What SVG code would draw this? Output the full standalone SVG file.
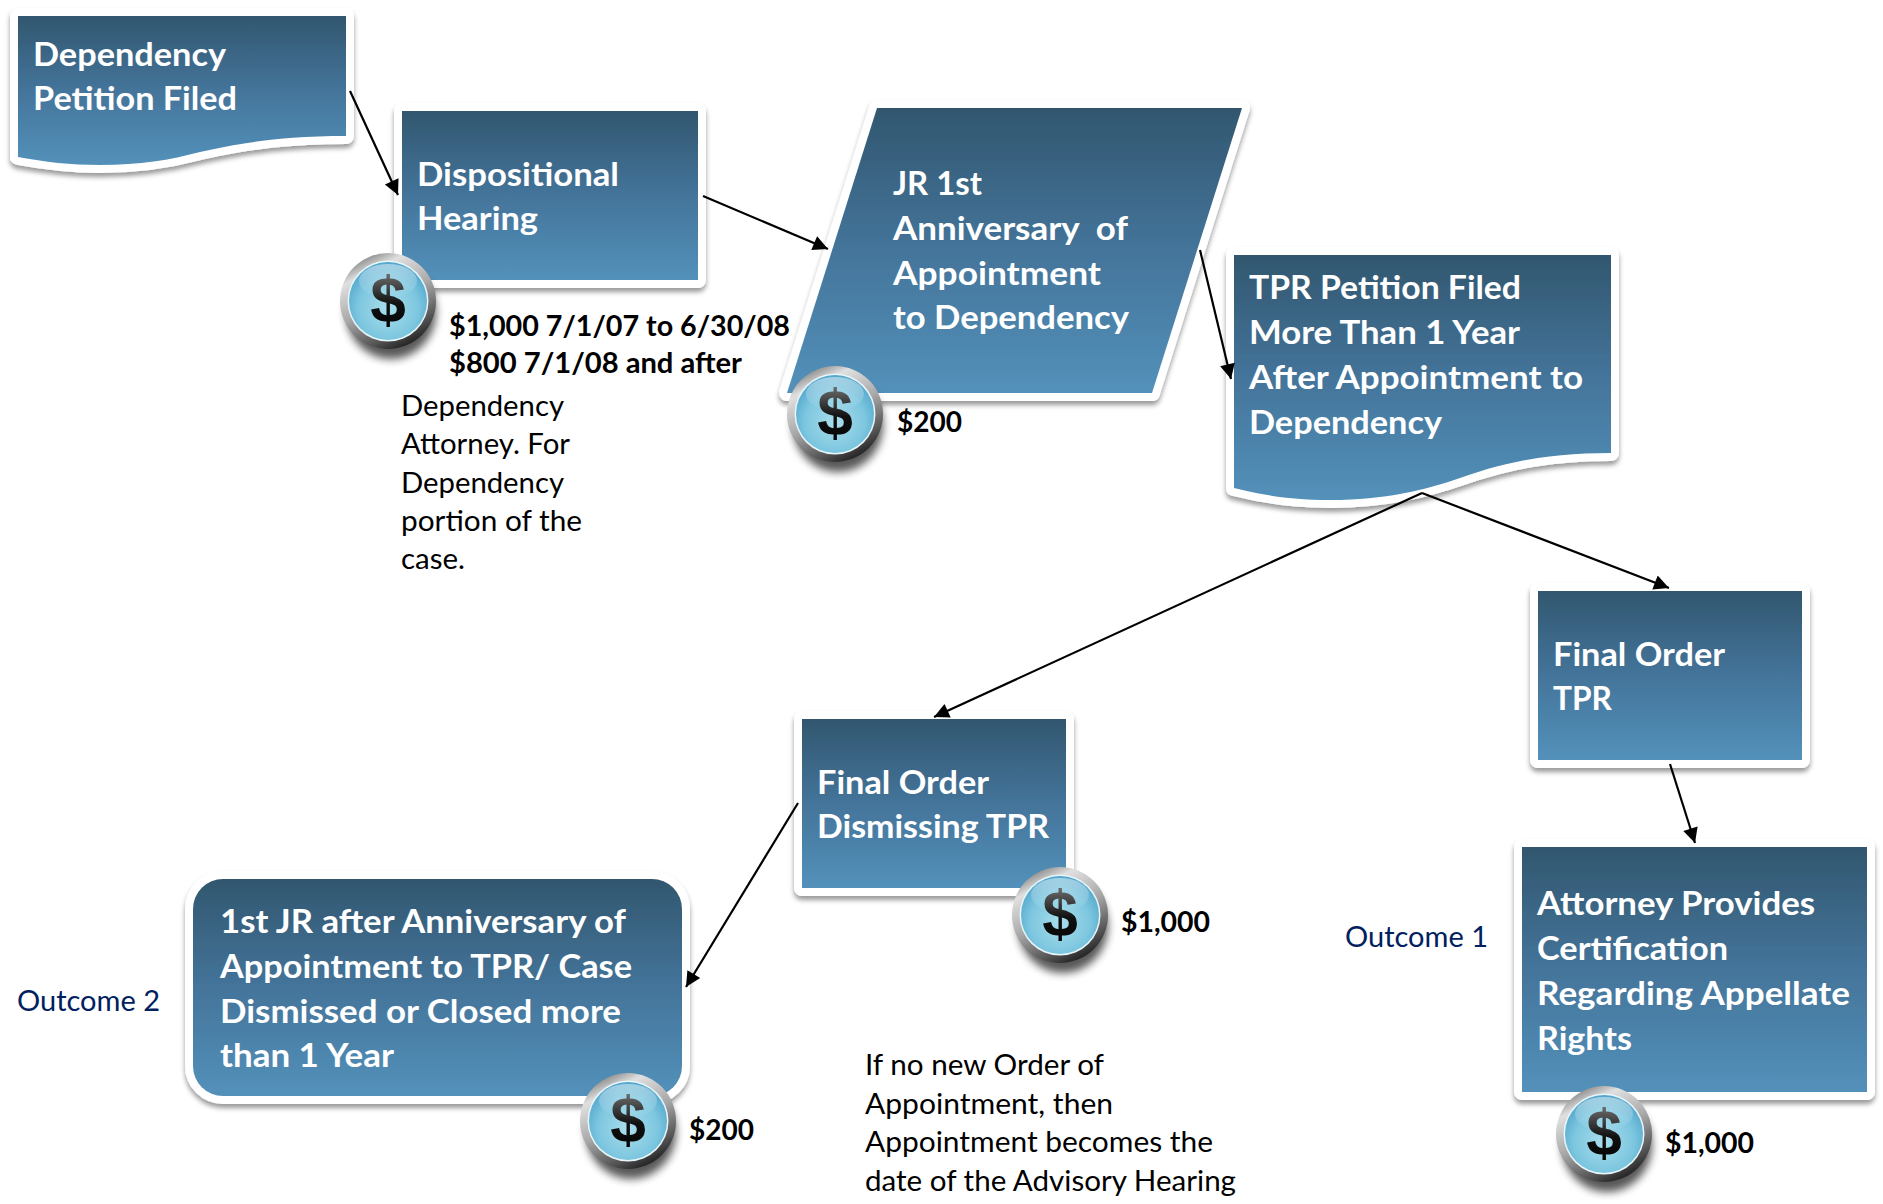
<svg xmlns="http://www.w3.org/2000/svg" width="1883" height="1204" viewBox="0 0 1883 1204">
<style>
text{font-family:"Lato","Liberation Sans",sans-serif}
.n{font-size:33px;font-weight:700;fill:#fff}
.b{font-size:29px;font-weight:700;fill:#000}
.t{font-size:29px;fill:#000}
.o{font-size:29px;fill:#002060}
.s{fill:url(#blue);stroke:#fff;stroke-width:16;stroke-linejoin:round;paint-order:stroke;filter:url(#sh)}
.c{stroke:#000;stroke-width:2.2;fill:none;marker-end:url(#ah)}
.d{font-family:"Liberation Sans",sans-serif;font-size:64px;font-weight:700;fill:url(#dollar);text-anchor:middle}
</style>
<defs>
<linearGradient id="blue" x1="0" y1="0" x2="0" y2="1"><stop offset="0" stop-color="#31576f"/><stop offset="0.5" stop-color="#44749a"/><stop offset="1" stop-color="#5391ba"/></linearGradient>
<linearGradient id="ring" x1="0.25" y1="0" x2="0.75" y2="1"><stop offset="0" stop-color="#777"/><stop offset="0.18" stop-color="#e0e0e0"/><stop offset="0.5" stop-color="#a8a8a8"/><stop offset="0.8" stop-color="#555"/><stop offset="1" stop-color="#141414"/></linearGradient>
<radialGradient id="disc" cx="0.5" cy="0.6" r="0.6"><stop offset="0" stop-color="#a9deec"/><stop offset="0.65" stop-color="#7cc6df"/><stop offset="1" stop-color="#52a5cb"/></radialGradient>
<linearGradient id="gloss" x1="0" y1="0" x2="0" y2="1"><stop offset="0" stop-color="#fff" stop-opacity=".45"/><stop offset="1" stop-color="#fff" stop-opacity="0"/></linearGradient>
<linearGradient id="dollar" x1="0" y1="0" x2="0" y2="1"><stop offset="0" stop-color="#8a8a8a"/><stop offset="0.55" stop-color="#111"/><stop offset="1" stop-color="#000"/></linearGradient>
<filter id="sh" x="-10%" y="-10%" width="120%" height="125%"><feDropShadow dx="0" dy="4" stdDeviation="2.5" flood-color="#000" flood-opacity=".4"/></filter>
<filter id="bl" x="-30%" y="-30%" width="160%" height="160%"><feGaussianBlur stdDeviation="4"/></filter>
<marker id="ah" viewBox="0 0 10 10" refX="10" refY="5" markerWidth="18" markerHeight="15" markerUnits="userSpaceOnUse" orient="auto"><path d="M0,0L10,5L0,10Z" fill="#000"/></marker>
<g id="coin">
<ellipse cx="3" cy="11" rx="45" ry="47" fill="#000" opacity=".65" filter="url(#bl)"/>
<ellipse rx="48" ry="48" fill="url(#ring)"/>
<circle r="40.5" fill="#e8f6fa"/>
<circle r="39" fill="url(#disc)"/>
<ellipse cy="-20" rx="29" ry="17" fill="url(#gloss)"/>
</g>
</defs>
<rect width="1883" height="1204" fill="#fff"/>

<g id="node-dependency-petition">
<path class="s" d="M18,16H346V136C290,136 250,141 200,152C170,160 140,165 100,165C70,165 45,162 18,157Z"/>
<text class="n"><tspan x="33" y="66" textLength="193" lengthAdjust="spacingAndGlyphs">Dependency</tspan><tspan x="33" y="110" textLength="204" lengthAdjust="spacingAndGlyphs">Petition Filed</tspan></text>
</g>
<g id="node-dispositional-hearing">
<rect class="s" x="402" y="111" width="296" height="169"/>
<text class="n"><tspan x="417" y="186" textLength="202" lengthAdjust="spacingAndGlyphs">Dispositional</tspan><tspan x="417" y="230" textLength="121" lengthAdjust="spacingAndGlyphs">Hearing</tspan></text>
</g>
<g id="coin-1" transform="translate(388,301)"><use href="#coin"/><text class="d" y="21">$</text></g>
<g id="label-1">
<text class="b"><tspan x="449" y="336" textLength="341" lengthAdjust="spacingAndGlyphs">$1,000 7/1/07 to 6/30/08</tspan><tspan x="449" y="373" textLength="293" lengthAdjust="spacingAndGlyphs">$800 7/1/08 and after</tspan></text>
<text class="t"><tspan x="401" y="416" textLength="163" lengthAdjust="spacingAndGlyphs">Dependency</tspan><tspan x="401" y="454" textLength="169" lengthAdjust="spacingAndGlyphs">Attorney. For</tspan><tspan x="401" y="493" textLength="163" lengthAdjust="spacingAndGlyphs">Dependency</tspan><tspan x="401" y="531" textLength="181" lengthAdjust="spacingAndGlyphs">portion of the</tspan><tspan x="401" y="569" textLength="64" lengthAdjust="spacingAndGlyphs">case.</tspan></text>
</g>
<g id="node-jr-anniversary">
<path class="s" d="M877,108H1242L1152,393H787Z"/>
<text class="n"><tspan x="893" y="195" textLength="89" lengthAdjust="spacingAndGlyphs">JR 1st</tspan><tspan x="893" y="240" textLength="235" lengthAdjust="spacingAndGlyphs" xml:space="preserve">Anniversary  of</tspan><tspan x="893" y="285" textLength="208" lengthAdjust="spacingAndGlyphs">Appointment</tspan><tspan x="893" y="329" textLength="236" lengthAdjust="spacingAndGlyphs">to Dependency</tspan></text>
</g>
<g id="coin-2" transform="translate(835,414)"><use href="#coin"/><text class="d" y="21">$</text></g>
<text class="b" x="897" y="432" textLength="65" lengthAdjust="spacingAndGlyphs">$200</text>
<g id="node-tpr-petition">
<path class="s" d="M1234,255H1611V453C1555,453 1510,460 1460,478C1425,490 1385,500 1331,500C1295,500 1265,496 1234,488Z"/>
<text class="n"><tspan x="1249" y="299" textLength="272" lengthAdjust="spacingAndGlyphs">TPR Petition Filed</tspan><tspan x="1249" y="344" textLength="271" lengthAdjust="spacingAndGlyphs">More Than 1 Year</tspan><tspan x="1249" y="389" textLength="334" lengthAdjust="spacingAndGlyphs">After Appointment to</tspan><tspan x="1249" y="434" textLength="193" lengthAdjust="spacingAndGlyphs">Dependency</tspan></text>
</g>
<g id="node-final-order-tpr">
<rect class="s" x="1538" y="591" width="264" height="169"/>
<text class="n"><tspan x="1553" y="666" textLength="172" lengthAdjust="spacingAndGlyphs">Final Order</tspan><tspan x="1553" y="710" textLength="59" lengthAdjust="spacingAndGlyphs">TPR</tspan></text>
</g>
<g id="node-final-order-dismissing">
<rect class="s" x="802" y="719" width="264" height="169"/>
<text class="n"><tspan x="817" y="794" textLength="172" lengthAdjust="spacingAndGlyphs">Final Order</tspan><tspan x="817" y="838" textLength="232" lengthAdjust="spacingAndGlyphs">Dismissing TPR</tspan></text>
</g>
<g id="coin-3" transform="translate(1060,915)"><use href="#coin"/><text class="d" y="21">$</text></g>
<text class="b" x="1121" y="932" textLength="89" lengthAdjust="spacingAndGlyphs">$1,000</text>
<g id="node-first-jr">
<rect class="s" x="193" y="879" width="489" height="217" rx="30"/>
<text class="n"><tspan x="220" y="933" textLength="406" lengthAdjust="spacingAndGlyphs">1st JR after Anniversary of</tspan><tspan x="220" y="978" textLength="412" lengthAdjust="spacingAndGlyphs">Appointment to TPR/ Case</tspan><tspan x="220" y="1023" textLength="401" lengthAdjust="spacingAndGlyphs">Dismissed or Closed more</tspan><tspan x="220" y="1067" textLength="174" lengthAdjust="spacingAndGlyphs">than 1 Year</tspan></text>
</g>
<g id="coin-4" transform="translate(628,1121)"><use href="#coin"/><text class="d" y="21">$</text></g>
<text class="b" x="689" y="1140" textLength="65" lengthAdjust="spacingAndGlyphs">$200</text>
<g id="node-attorney">
<rect class="s" x="1522" y="847" width="345" height="245"/>
<text class="n"><tspan x="1537" y="915" textLength="278" lengthAdjust="spacingAndGlyphs">Attorney Provides</tspan><tspan x="1537" y="960" textLength="191" lengthAdjust="spacingAndGlyphs">Certification</tspan><tspan x="1537" y="1005" textLength="313" lengthAdjust="spacingAndGlyphs">Regarding Appellate</tspan><tspan x="1537" y="1050" textLength="95" lengthAdjust="spacingAndGlyphs">Rights</tspan></text>
</g>
<g id="coin-5" transform="translate(1604,1134)"><use href="#coin"/><text class="d" y="21">$</text></g>
<text class="b" x="1665" y="1153" textLength="89" lengthAdjust="spacingAndGlyphs">$1,000</text>
<text class="t"><tspan x="865" y="1075" textLength="239" lengthAdjust="spacingAndGlyphs">If no new Order of</tspan><tspan x="865" y="1114" textLength="248" lengthAdjust="spacingAndGlyphs">Appointment, then</tspan><tspan x="865" y="1152" textLength="348" lengthAdjust="spacingAndGlyphs">Appointment becomes the</tspan><tspan x="865" y="1191" textLength="371" lengthAdjust="spacingAndGlyphs">date of the Advisory Hearing</tspan></text>
<text class="o" x="17" y="1011" textLength="143" lengthAdjust="spacingAndGlyphs">Outcome 2</text>
<text class="o" x="1345" y="947" textLength="143" lengthAdjust="spacingAndGlyphs">Outcome 1</text>
<g id="connectors">
<path class="c" d="M350,91L398,195"/>
<path class="c" d="M703,196L828,249"/>
<path class="c" d="M1200,250L1231,379"/>
<path class="c" d="M1422,493L1669,588"/>
<path class="c" d="M1422,493L934,717"/>
<path class="c" d="M1670,764L1695,843"/>
<path class="c" d="M798,803L686,987"/>
</g>
</svg>
